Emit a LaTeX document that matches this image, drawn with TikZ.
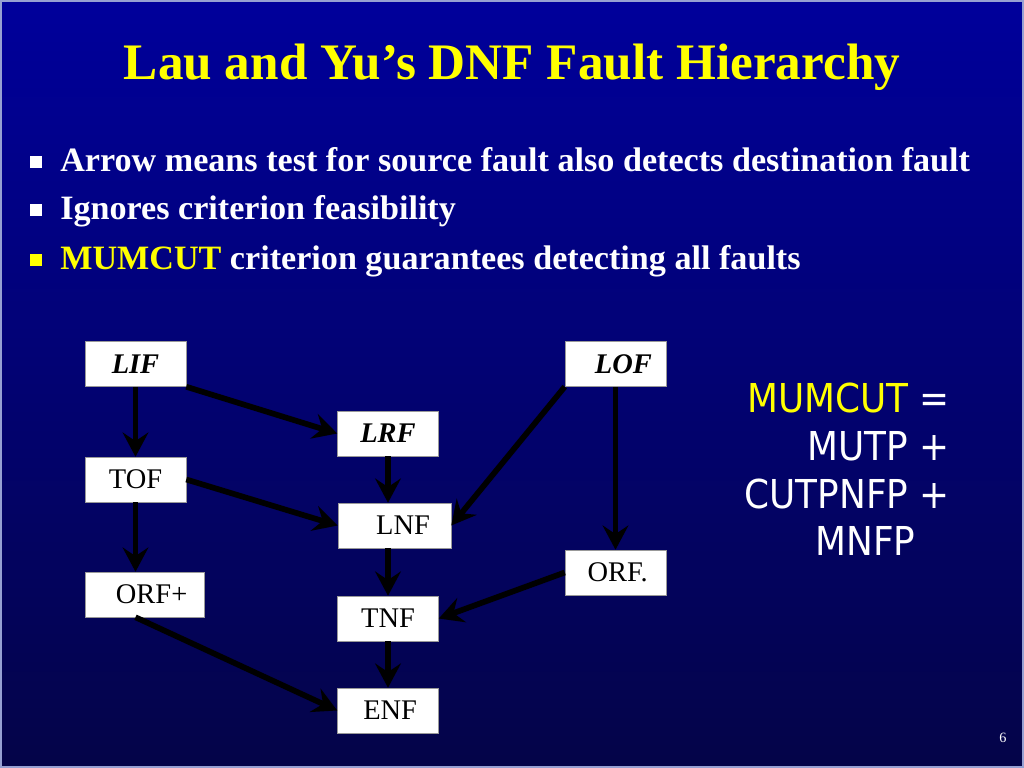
\documentclass[tikz,border=0pt]{standalone}
\usepackage{fontspec}
\setmainfont{Liberation Serif}
\newfontfamily\slidesans{DejaVu Sans Condensed}
\usepackage{tikz}
\usetikzlibrary{arrows.meta}
\definecolor{slidetop}{RGB}{0,0,155}
\definecolor{slidebottom}{RGB}{4,4,72}
\definecolor{slideedge}{RGB}{150,160,210}
\definecolor{slideyellow}{RGB}{255,255,0}

\begin{document}
\begin{tikzpicture}[x=0.703125pt,y=-0.703125pt,>={Stealth[length=17pt,width=18pt,inset=6pt]},
fault/.style={fill=white,draw=black!40,line width=0.4pt,inner sep=0pt,minimum width=71pt,minimum height=31.6pt,text=black,font=\fontsize{20}{24}\selectfont},
literal/.style={fault,font=\fontsize{20}{24}\selectfont\bfseries\itshape},
imp/.style={->,line width=4pt,black},
point/.style={white,font=\fontsize{24}{28}\selectfont\bfseries,anchor=base west,inner sep=0pt},
pointsq/.style={fill=#1,inner sep=0pt,minimum size=8.4pt}]
\useasboundingbox(0,0)rectangle(1024,768);
\shade[top color=slidetop,bottom color=slidebottom](0,0)rectangle(1024,768);
\draw[slideedge,line width=1.4pt](1,1)rectangle(1023,767);

\node[slideyellow,font=\fontsize{36}{40}\selectfont\bfseries,anchor=base](title)at(512,80){Lau and Yu’s DNF Fault Hierarchy};

\node[pointsq=white](sq1)at(36,162){};
\node[point](p1)at(60,172){Arrow means test for source fault also detects destination fault};
\node[pointsq=white](sq2)at(36,210){};
\node[point](p2)at(60,220){Ignores criterion feasibility};
\node[pointsq=slideyellow](sq3)at(36,260){};
\node[point](p3)at(60,270){\textcolor{slideyellow}{MUMCUT} criterion guarantees detecting all faults};

\node[literal](LIF)at(135.5,364){LIF};
\node[literal](LRF)at(388,433.5){LRF};
\node[literal](LOF)at(615.5,364){\hspace*{11pt}LOF};
\node[fault](TOF)at(135.5,479.5){TOF};
\node[fault,minimum width=79.5pt](LNF)at(394.5,525.5){\hspace*{12pt}LNF};
\node[fault](orfdot)at(615.5,572.5){\hspace*{3pt}ORF.};
\node[fault,minimum width=83.7pt](orfplus)at(144.5,594.5){\hspace*{10pt}ORF+};
\node[fault](TNF)at(388,618.5){TNF};
\node[fault](ENF)at(388,710.5){\hspace*{3pt}ENF};

\draw[imp](LIF.south)--(TOF.north);
\draw[imp](LIF.south east)--(LRF.west);
\draw[imp](LRF.south)--(LRF.south |- LNF.north);
\draw[imp](TOF.east)--(LNF.west);
\draw[imp](TOF.south)--(TOF.south |- orfplus.north);
\draw[imp](LOF.south west)--(LNF.east);
\draw[imp](LOF.south)--(orfdot.north);
\draw[imp](LRF.south |- LNF.south)--(TNF.north);
\draw[imp](orfdot.west)--(TNF.east);
\draw[imp](TNF.south)--(ENF.north);
\draw[imp](TOF.south |- orfplus.south)--(ENF.west);

\node[white,font=\slidesans\fontsize{28}{33.5}\selectfont,align=right,anchor=north east,inner sep=0pt](mumcut)at(950,383){\textcolor{slideyellow}{MUMCUT} =\\ MUTP +\\ CUTPNFP +\\ MNFP\hspace*{24pt}};

\node[white,font=\fontsize{10}{12}\selectfont](pagenum)at(1003,738){6};
\end{tikzpicture}
\end{document}
